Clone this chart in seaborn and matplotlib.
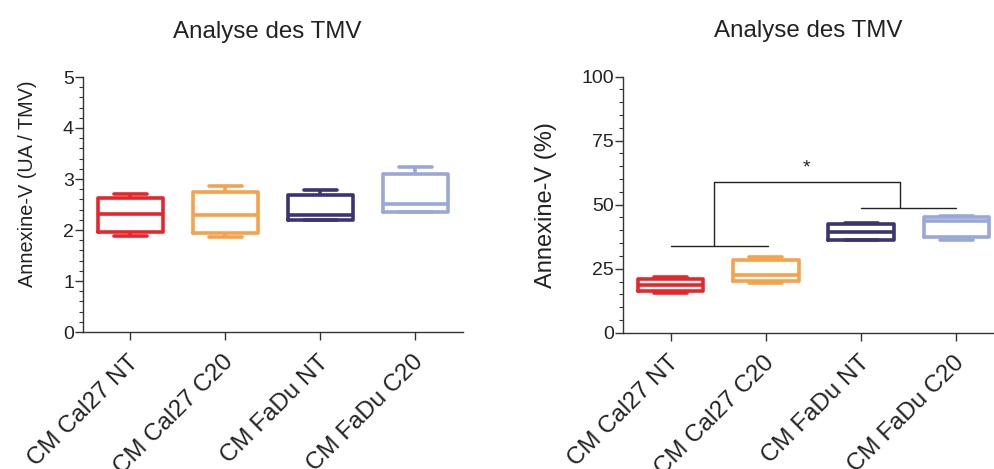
import matplotlib
matplotlib.use("Agg")
import matplotlib.pyplot as plt
import matplotlib.transforms as mtransforms
import seaborn as sns
import pandas as pd
from matplotlib.ticker import MultipleLocator

sns.set_theme(style="ticks")
plt.rcParams["font.family"] = ["Liberation Sans", "DejaVu Sans"]

categories = ["CM Cal27 NT", "CM Cal27 C20", "CM FaDu NT", "CM FaDu C20"]
colors = ["#E8252B", "#F5A24B", "#3C3373", "#9AA8D9"]

# five-number summaries (min, Q1, median, Q3, max)
left_cal27_nt = [1.89, 1.96, 2.32, 2.63, 2.70]
left_cal27_c20 = [1.87, 1.95, 2.29, 2.74, 2.86]
left_fadu_nt = [2.19, 2.19, 2.29, 2.69, 2.78]
left_fadu_c20 = [2.36, 2.36, 2.51, 3.10, 3.24]

right_cal27_nt = [15.7, 16.4, 18.5, 20.9, 21.6]
right_cal27_c20 = [19.5, 20.1, 22.7, 28.3, 29.4]
right_fadu_nt = [36.2, 36.4, 39.3, 42.6, 42.9]
right_fadu_c20 = [36.4, 37.4, 43.6, 45.1, 45.4]

title = "Analyse des TMV"
left_ylabel = "Annexine-V (UA / TMV)"
right_ylabel = "Annexine-V (%)"
star_label = "*"


def long_df(series):
    rows = []
    for cat, vals in zip(categories, series):
        for v in vals:
            rows.append((cat, v))
    return pd.DataFrame(rows, columns=["cat", "val"])


df_left = long_df([left_cal27_nt, left_cal27_c20, left_fadu_nt, left_fadu_c20])
df_right = long_df([right_cal27_nt, right_cal27_c20, right_fadu_nt, right_fadu_c20])
palette = dict(zip(categories, colors))

fig = plt.figure(figsize=(9.95, 4.69), dpi=100)
ax1 = fig.add_axes([83 / 995, 137 / 469, 380 / 995, 255 / 469])
ax2 = fig.add_axes([623 / 995, 136.3 / 469, 381 / 995, 256 / 469])

text_color = "#222222"
axis_color = "#333333"
label_offset = mtransforms.ScaledTranslation(-3 / 100, -6 / 100, fig.dpi_scale_trans)

for ax, df, ylim, major, minor, ylabel, ylab_fs, ylab_x, ylab_y in [
    (ax1, df_left, 5, 1, 0.2, left_ylabel, 14.3, -0.121, 0.58),
    (ax2, df_right, 100, 25, 5, right_ylabel, 17, -0.174, 0.50),
]:
    sns.boxplot(
        data=df, x="cat", y="val", hue="cat", palette=palette, order=categories,
        hue_order=categories, fill=False, whis=(0, 100), width=0.69,
        linewidth=2.6, legend=False, ax=ax,
    )
    ax.set_xlim(-0.5, 3.5)
    ax.set_ylim(0, ylim)
    ax.yaxis.set_major_locator(MultipleLocator(major))
    ax.yaxis.set_minor_locator(MultipleLocator(minor))
    for side in ["top", "right"]:
        ax.spines[side].set_visible(False)
    for side in ["left", "bottom"]:
        ax.spines[side].set_color(axis_color)
        ax.spines[side].set_linewidth(1.0)
    ax.tick_params(axis="both", which="major", length=5.5, width=1.0, color=axis_color,
                   labelcolor=text_color, labelsize=14, pad=1)
    ax.tick_params(axis="y", which="minor", length=3, width=0.8, color=axis_color)
    ax.set_xticks(range(len(categories)))
    ax.set_xticklabels(categories, rotation=45, ha="right", rotation_mode="anchor",
                       fontsize=17.4, color=text_color)
    ax.tick_params(axis="x", pad=4)
    for lab in ax.get_xticklabels():
        lab.set_transform(lab.get_transform() + label_offset)
    ax.set_xlabel("")
    ax.set_ylabel(ylabel, fontsize=ylab_fs, color=text_color)
    ax.yaxis.set_label_coords(ylab_x, ylab_y)
    ax.text(0.485, 1.178, title, transform=ax.transAxes, ha="center", va="center",
            fontsize=17.4, color=text_color)
    ax.set_facecolor("white")

# significance brackets on the right panel
lc = "#222222"
ax2.plot([0, 1.02], [33.9, 33.9], color=lc, lw=1.0)
ax2.plot([0.46, 0.46, 2.41, 2.41], [33.9, 58.9, 58.9, 48.7], color=lc, lw=1.0)
ax2.plot([2.0, 3.0], [48.7, 48.7], color=lc, lw=1.0)
ax2.text(1.43, 64.5, star_label, ha="center", va="center", fontsize=14, color=lc)

fig.savefig("out.png", dpi=100, facecolor="white")
